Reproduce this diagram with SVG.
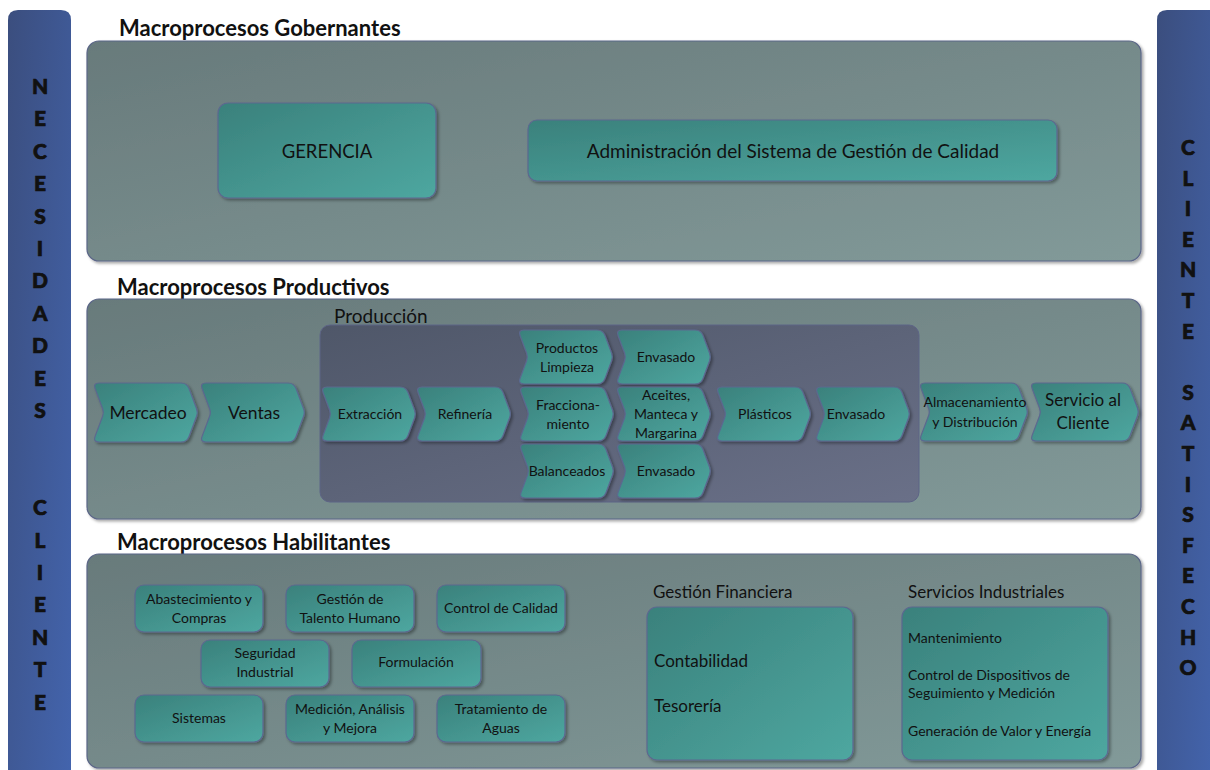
<svg xmlns="http://www.w3.org/2000/svg" width="1210" height="770" viewBox="0 0 1210 770">
<defs>
<linearGradient id="gPanel" x1="0" y1="0" x2="1" y2="1">
<stop offset="0" stop-color="#687a7b"/><stop offset="1" stop-color="#829a99"/>
</linearGradient>
<linearGradient id="gProd" x1="0" y1="0" x2="1" y2="1">
<stop offset="0" stop-color="#4f5769"/><stop offset="1" stop-color="#6a7088"/>
</linearGradient>
<linearGradient id="gTeal" x1="0" y1="0" x2="1" y2="1">
<stop offset="0" stop-color="#3a817c"/><stop offset="1" stop-color="#4ea7a0"/>
</linearGradient>
<linearGradient id="gBar" x1="0" y1="0" x2="1" y2="1">
<stop offset="0" stop-color="#3b4e7e"/><stop offset="1" stop-color="#4364ad"/>
</linearGradient>
<filter id="sh" x="-10%" y="-10%" width="130%" height="130%">
<feDropShadow dx="2" dy="2" stdDeviation="1.5" flood-color="#000" flood-opacity="0.35"/>
</filter>
<path id="chevS" d="M6,0 H79 Q85,0 87.08,5.63 L93.61,23.25 Q95,27 93.61,30.75 L87.08,48.37 Q85,54 79,54 H6 Q0,54 2.08,48.37 L8.61,30.75 Q10,27 8.61,23.25 L2.08,5.63 Q0,0 6,0 Z"/>
<path id="chevL" d="M6,0 H88 Q94,0 96.09,5.62 L103.6,25.75 Q105,29.5 103.6,33.25 L96.09,53.38 Q94,59 88,59 H6 Q0,59 2.09,53.38 L9.6,33.25 Q11,29.5 9.6,25.75 L2.09,5.62 Q0,0 6,0 Z"/>
<path id="chevM" d="M6,0 H92 Q98,0 100.13,5.61 L107.58,25.26 Q109,29 107.58,32.74 L100.13,52.39 Q98,58 92,58 H6 Q0,58 2.13,52.39 L9.58,32.74 Q11,29 9.58,25.26 L2.13,5.61 Q0,0 6,0 Z"/>
</defs>
<style>
.panel{fill:url(#gPanel);stroke:#5b6688;stroke-width:1.2;filter:url(#sh)}
.prod{fill:url(#gProd);stroke:#5d6486;stroke-width:1}
.box{fill:url(#gTeal);stroke:#5c6890;stroke-width:1.2;filter:url(#sh)}
.bar{fill:url(#gBar)}
text{font-family:Lato,"Liberation Sans",sans-serif;fill:#111}
.title{font-size:22px;font-weight:bold}
.side{font-size:21px;font-weight:900;text-anchor:middle;stroke:#111;stroke-width:0.7}
.c{text-anchor:middle}
.t19{font-size:19px}
.t17{font-size:17px}
.t14{font-size:14px}
</style>
<rect width="1210" height="770" fill="#ffffff"/>

<g id="bar-left">
<path class="bar" d="M8,20 Q8,10 18,10 H61 Q71,10 71,20 V775 H8 Z"/>
<text class="side" x="40" y="94">N</text>
<text class="side" x="40" y="126">E</text>
<text class="side" x="40" y="159">C</text>
<text class="side" x="40" y="191">E</text>
<text class="side" x="40" y="224">S</text>
<text class="side" x="40" y="256">I</text>
<text class="side" x="40" y="288">D</text>
<text class="side" x="40" y="321">A</text>
<text class="side" x="40" y="353">D</text>
<text class="side" x="40" y="386">E</text>
<text class="side" x="40" y="418">S</text>
<text class="side" x="40" y="515">C</text>
<text class="side" x="40" y="548">L</text>
<text class="side" x="40" y="580">I</text>
<text class="side" x="40" y="612">E</text>
<text class="side" x="40" y="645">N</text>
<text class="side" x="40" y="677">T</text>
<text class="side" x="40" y="710">E</text>
</g>

<g id="bar-right">
<path class="bar" d="M1157,20 Q1157,10 1167,10 H1215 V775 H1157 Z"/>
<text class="side" x="1188" y="155">C</text>
<text class="side" x="1188" y="186">L</text>
<text class="side" x="1188" y="216">I</text>
<text class="side" x="1188" y="247">E</text>
<text class="side" x="1188" y="277">N</text>
<text class="side" x="1188" y="308">T</text>
<text class="side" x="1188" y="339">E</text>
<text class="side" x="1188" y="400">S</text>
<text class="side" x="1188" y="430">A</text>
<text class="side" x="1188" y="461">T</text>
<text class="side" x="1188" y="492">I</text>
<text class="side" x="1188" y="522">S</text>
<text class="side" x="1188" y="553">F</text>
<text class="side" x="1188" y="583">E</text>
<text class="side" x="1188" y="614">C</text>
<text class="side" x="1188" y="645">H</text>
<text class="side" x="1188" y="675">O</text>
</g>

<g id="panel-gobernantes">
<text class="title" x="119" y="36">Macroprocesos Gobernantes</text>
<rect class="panel" x="87" y="41" width="1054" height="220" rx="12"/>
</g>
<g id="gerencia">
<rect class="box" x="218" y="103" width="218" height="95" rx="10"/>
<text class="c" style="font-size:18.5px" x="327" y="158">GERENCIA</text>
</g>
<g id="admin-sgc">
<rect class="box" x="528" y="120" width="529" height="61" rx="9"/>
<text class="c t19" x="793" y="158">Administración del Sistema de Gestión de Calidad</text>
</g>

<g id="panel-productivos">
<text class="title" x="117" y="295">Macroprocesos Productivos</text>
<rect class="panel" x="87" y="299" width="1054" height="220" rx="12"/>
</g>
<g id="produccion">
<text class="t19" x="334" y="323">Producción</text>
<rect class="prod" x="320" y="325" width="599" height="177" rx="10"/>
</g>

<g id="mercadeo"><use href="#chevL" x="93" y="383" class="box"/><text class="c" style="font-size:17.5px" x="148" y="419">Mercadeo</text></g>
<g id="ventas"><use href="#chevL" x="200" y="383" class="box"/><text class="c" style="font-size:17.5px" x="254" y="419">Ventas</text></g>

<g id="extraccion"><use href="#chevS" x="321" y="387" class="box"/><text class="c t14" x="370" y="419">Extracción</text></g>
<g id="refineria"><use href="#chevS" x="416" y="387" class="box"/><text class="c t14" x="465" y="419">Refinería</text></g>
<g id="productos-limpieza"><use href="#chevS" x="518" y="330" class="box"/><text class="c t14" x="567" y="353">Productos</text><text class="c t14" x="567" y="372">Limpieza</text></g>
<g id="envasado-1"><use href="#chevS" x="616" y="330" class="box"/><text class="c t14" x="666" y="362">Envasado</text></g>
<g id="fraccionamiento"><use href="#chevS" x="519" y="387" class="box"/><text class="c t14" x="568" y="410">Fracciona-</text><text class="c t14" x="568" y="429">miento</text></g>
<g id="aceites"><use href="#chevS" x="616" y="387" class="box"/><text class="c t14" x="666" y="400">Aceites,</text><text class="c t14" x="666" y="419">Manteca y</text><text class="c t14" x="666" y="438">Margarina</text></g>
<g id="plasticos"><use href="#chevS" x="716" y="387" class="box"/><text class="c t14" x="765" y="419">Plásticos</text></g>
<g id="envasado-2"><use href="#chevS" x="815" y="387" class="box"/><text class="c t14" x="856" y="419">Envasado</text></g>
<g id="balanceados"><use href="#chevS" x="519" y="444" class="box"/><text class="c t14" x="567" y="476">Balanceados</text></g>
<g id="envasado-3"><use href="#chevS" x="616" y="444" class="box"/><text class="c t14" x="666" y="476">Envasado</text></g>

<g id="almacenamiento"><use href="#chevM" x="919" y="383" class="box"/><text class="c t14" x="975" y="407">Almacenamiento</text><text class="c t14" x="975" y="427">y Distribución</text></g>
<g id="servicio-cliente"><use href="#chevM" x="1030" y="383" class="box"/><text class="c t17" x="1083" y="406">Servicio al</text><text class="c t17" x="1083" y="429">Cliente</text></g>

<g id="panel-habilitantes">
<text class="title" x="117" y="550">Macroprocesos Habilitantes</text>
<rect class="panel" x="87" y="554" width="1054" height="214" rx="12"/>
</g>
<g id="abastecimiento"><rect class="box" x="135" y="585" width="128" height="47" rx="9"/><text class="c t14" x="199" y="604">Abastecimiento y</text><text class="c t14" x="199" y="623">Compras</text></g>
<g id="talento-humano"><rect class="box" x="286" y="585" width="128" height="47" rx="9"/><text class="c t14" x="350" y="604">Gestión de</text><text class="c t14" x="350" y="623">Talento Humano</text></g>
<g id="control-calidad"><rect class="box" x="437" y="585" width="128" height="47" rx="9"/><text class="c t14" x="501" y="613">Control de Calidad</text></g>
<g id="seguridad-industrial"><rect class="box" x="201" y="640" width="128" height="47" rx="9"/><text class="c t14" x="265" y="658">Seguridad</text><text class="c t14" x="265" y="677">Industrial</text></g>
<g id="formulacion"><rect class="box" x="352" y="640" width="129" height="47" rx="9"/><text class="c t14" x="416" y="667">Formulación</text></g>
<g id="sistemas"><rect class="box" x="135" y="695" width="128" height="47" rx="9"/><text class="c t14" x="199" y="723">Sistemas</text></g>
<g id="medicion"><rect class="box" x="286" y="695" width="128" height="47" rx="9"/><text class="c t14" x="350" y="714">Medición, Análisis</text><text class="c t14" x="350" y="733">y Mejora</text></g>
<g id="tratamiento-aguas"><rect class="box" x="437" y="695" width="128" height="47" rx="9"/><text class="c t14" x="501" y="714">Tratamiento de</text><text class="c t14" x="501" y="733">Aguas</text></g>

<g id="gestion-financiera">
<text class="t17" x="653" y="598">Gestión Financiera</text>
<rect class="box" x="647" y="607" width="206" height="153" rx="10"/>
<text class="t17" x="654" y="667">Contabilidad</text>
<text class="t17" x="654" y="712">Tesorería</text>
</g>
<g id="servicios-industriales">
<text class="t17" x="908" y="598">Servicios Industriales</text>
<rect class="box" x="902" y="607" width="206" height="153" rx="10"/>
<text class="t14" x="908" y="643">Mantenimiento</text>
<text class="t14" x="908" y="680">Control de Dispositivos de</text>
<text class="t14" x="908" y="698">Seguimiento y Medición</text>
<text class="t14" x="908" y="736">Generación de Valor y Energía</text>
</g>
<g id="connectors"></g>
</svg>
